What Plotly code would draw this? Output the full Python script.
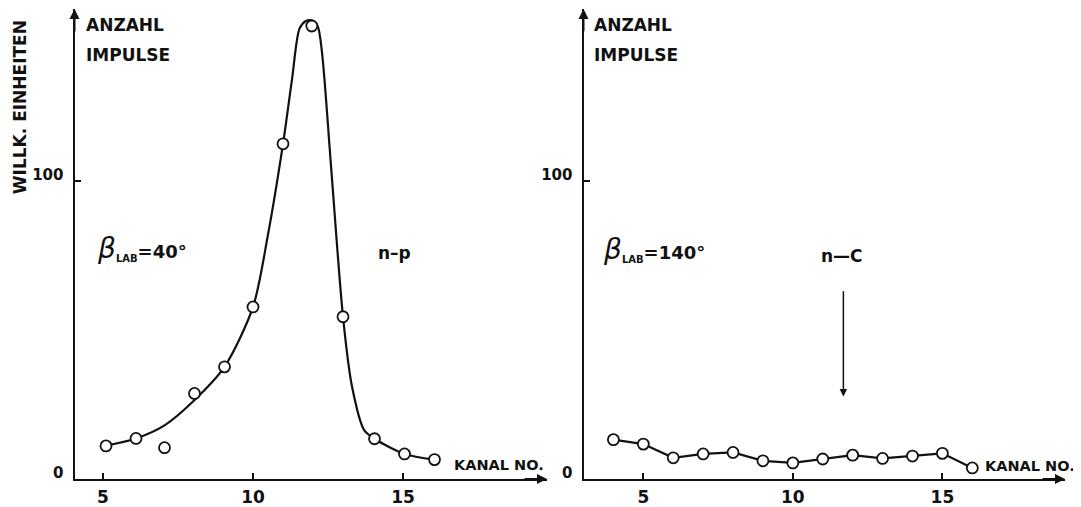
import plotly.graph_objects as go

# ---- data ----
# left panel: beta_LAB = 40 deg, n-p
left_channel = [5.1, 6.1, 7.05, 8.05, 9.05, 10.0, 11.0, 11.96, 13.0, 14.05, 15.05, 16.05]
left_counts = [11.1, 13.6, 10.5, 28.7, 37.6, 57.7, 112.4, 151.9, 54.4, 13.5, 8.4, 6.5]
# hand-drawn smooth curve of the left panel (traced points)
curve_x = [5.1, 6.1, 7.05, 8.0, 9.05, 10.0, 10.5, 11.0, 11.3, 11.55, 11.75, 11.95, 12.15, 12.3,
           12.6, 13.0, 13.3, 13.7, 14.05, 15.05, 16.05]
curve_y = [11.2, 13.6, 18.0, 26.0, 37.6, 57.7, 82.0, 112.4, 134.0, 151.0, 153.5, 153.8, 152.0, 143.0,
           105.0, 54.4, 31.0, 16.5, 13.5, 8.4, 6.5]
# right panel: beta_LAB = 140 deg, n-C
right_channel = [4, 5, 6, 7, 8, 9, 10, 11, 12, 13, 14, 15, 16]
right_counts = [13.2, 11.7, 7.1, 8.4, 8.9, 6.1, 5.4, 6.7, 8.0, 6.9, 7.7, 8.6, 3.7]
arrow_x = 11.69
arrow_y_from, arrow_y_to = 63.5, 27.7

x_ticks = [5, 10, 15]
x_tick_labels = ["5", "10", "15"]
y_ticks = [0, 100]
y_tick_labels = ["0", "100"]

FONT = "DejaVu Sans"
BLACK = "#111111"

fig = go.Figure()

fig.add_trace(go.Scatter(x=curve_x, y=curve_y, mode="lines",
                         line=dict(color=BLACK, width=2.2, shape="spline", smoothing=0.8),
                         xaxis="x", yaxis="y", hoverinfo="skip"))
fig.add_trace(go.Scatter(x=left_channel, y=left_counts, mode="markers",
                         marker=dict(symbol="circle", size=11, color="white",
                                     line=dict(color=BLACK, width=1.8)),
                         xaxis="x", yaxis="y"))
fig.add_trace(go.Scatter(x=right_channel, y=right_counts, mode="lines+markers",
                         line=dict(color=BLACK, width=2.2),
                         marker=dict(symbol="circle", size=11, color="white",
                                     line=dict(color=BLACK, width=1.8)),
                         xaxis="x2", yaxis="y2"))

axis_common = dict(showline=True, linecolor=BLACK, linewidth=2, showgrid=False, zeroline=False,
                   ticks="inside", ticklen=6, tickwidth=1.5, tickcolor=BLACK)
xfont = dict(family=FONT, size=17, color=BLACK, weight="bold")
yfont = dict(family=FONT, size=15, color=BLACK, weight="bold")

YMAX = 157.6
fig.update_layout(
    width=1073, height=499,
    margin=dict(l=0, r=0, t=1, b=28, autoexpand=False),
    paper_bgcolor="white", plot_bgcolor="white",
    showlegend=False,
    xaxis=dict(domain=[0.06198, 0.50233], range=[4.05, 19.8], anchor="y",
               tickvals=x_ticks, ticktext=x_tick_labels, ticklabelstandoff=2,
               tickfont=xfont, **axis_common),
    yaxis=dict(domain=[0, 1], range=[0, YMAX], anchor="x",
               tickvals=y_ticks, ticktext=y_tick_labels, ticklabelstandoff=6, ticklabelshift=-6,
               tickfont=yfont, **axis_common),
    xaxis2=dict(domain=[0.53635, 0.98509], range=[3.0, 19.1], anchor="y2",
                tickvals=x_ticks, ticktext=x_tick_labels, ticklabelstandoff=2,
                tickfont=xfont, **axis_common),
    yaxis2=dict(domain=[0, 1], range=[0, YMAX], anchor="x2",
                tickvals=y_ticks, ticktext=y_tick_labels, ticklabelstandoff=6, ticklabelshift=-6,
                tickfont=yfont, **axis_common),
)

anns = []
def txt(text, x, y, xr, yr, size=17, xanchor="left", angle=0):
    anns.append(dict(text=text, x=x, y=y, xref=xr, yref=yr, showarrow=False,
                     xanchor=xanchor, yanchor="middle", textangle=angle,
                     font=dict(family=FONT, size=size, color=BLACK, weight="bold")))

beta40 = ("<span style='font-size:28px;font-weight:normal'><i>β</i></span>"
          "<sub><span style='font-size:10px'>LAB</span></sub>=40°")
beta140 = ("<span style='font-size:28px;font-weight:normal'><i>β</i></span>"
           "<sub><span style='font-size:10px'>LAB</span></sub>=140°")

# y axis title (left panel)
txt("WILLK. EINHEITEN", 0.0112, 124.7, "paper", "y", xanchor="center", angle=-90)
# left panel texts
txt("ANZAHL", 4.37, 152.2, "x", "y")
txt("IMPULSE", 4.37, 142.1, "x", "y")
txt(beta40, 4.72, 77.4, "x", "y", size=18)
txt("n–p", 14.72, 75.9, "x", "y", xanchor="center")
txt("KANAL NO.", 16.63, 4.8, "x", "y", size=14.5)
# right panel texts
txt("ANZAHL", 3.28, 152.2, "x2", "y2")
txt("IMPULSE", 3.28, 142.1, "x2", "y2")
txt(beta140, 3.6, 77.0, "x2", "y2", size=18)
txt("n—C", 11.65, 74.9, "x2", "y2", xanchor="center")
txt("KANAL NO.", 16.35, 4.3, "x2", "y2", size=14.5)

def arrow(x, y, ax, ay, xr, yr, width=2):
    anns.append(dict(text="", x=x, y=y, ax=ax, ay=ay, xref=xr, yref=yr, axref=xr, ayref=yr,
                     showarrow=True, arrowhead=2, arrowsize=1, arrowwidth=width, arrowcolor=BLACK))

# axis arrowheads
arrow(19.8, 0, 19.0, 0, "x", "y")
arrow(4.05, YMAX, 4.05, YMAX - 8, "x", "y")
arrow(19.1, 0, 18.3, 0, "x2", "y2")
arrow(3.0, YMAX, 3.0, YMAX - 8, "x2", "y2")
# n-C marker arrow
arrow(arrow_x, arrow_y_to, arrow_x, arrow_y_from, "x2", "y2", width=1.5)

fig.update_layout(annotations=anns)
fig.write_html("out.html")
